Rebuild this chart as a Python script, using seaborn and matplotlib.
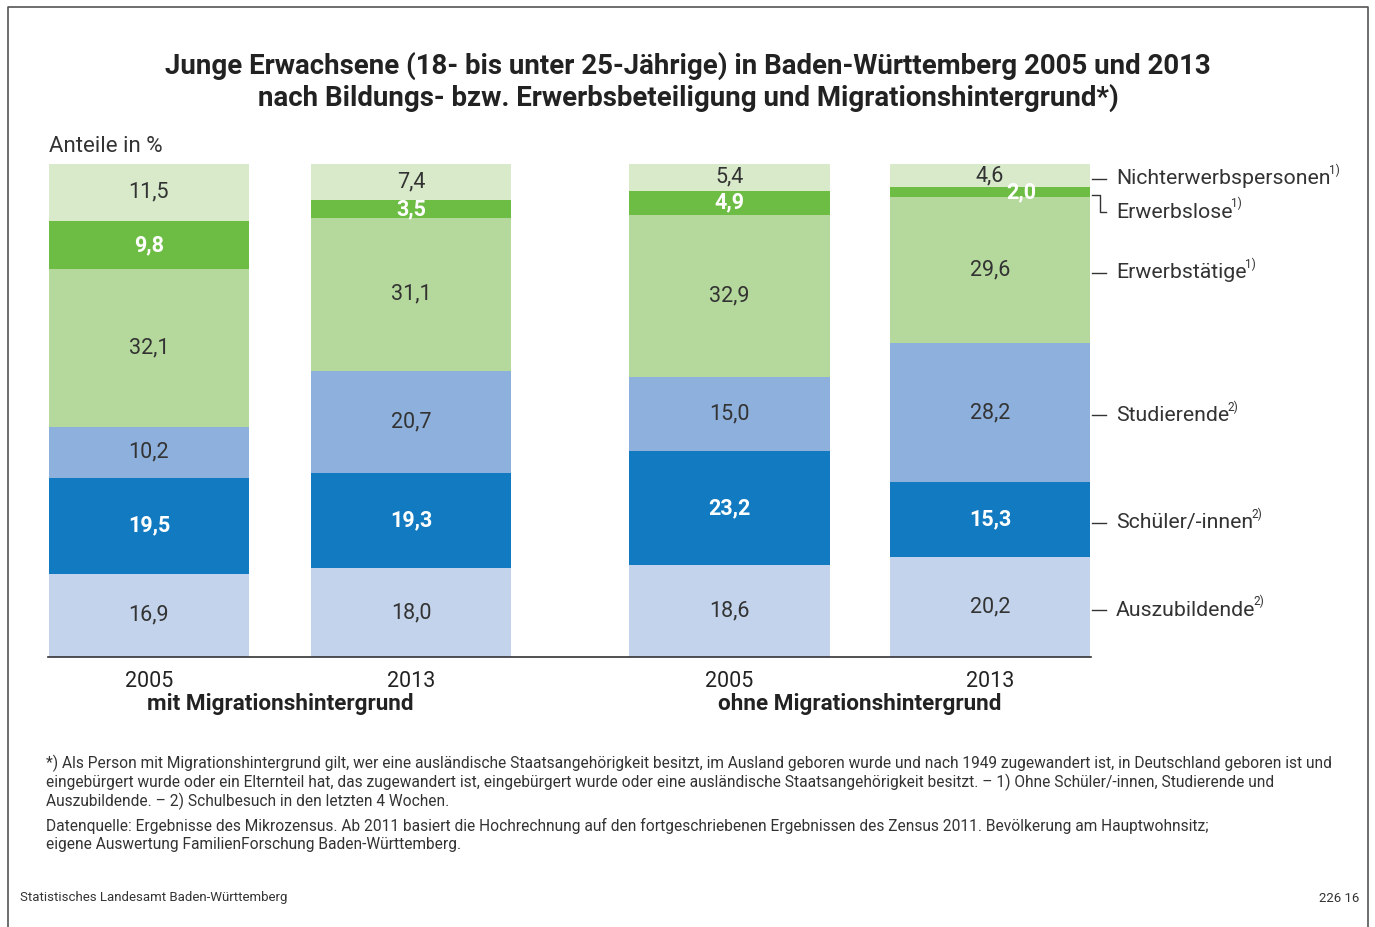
import matplotlib
matplotlib.use("Agg")
import matplotlib.pyplot as plt
import pandas as pd
import seaborn as sns
from matplotlib.lines import Line2D

# Data (Anteile in %), bottom segment first
years = ["2005", "2013", "2005", "2013"]
groups = ["mit Migrationshintergrund", "ohne Migrationshintergrund"]
categories = ["Auszubildende", "Schüler/-innen", "Studierende",
              "Erwerbstätige", "Erwerbslose", "Nichterwerbspersonen"]
notes = ["2)", "2)", "2)", "1)", "1)", "1)"]
auszubildende = [16.9, 18.0, 18.6, 20.2]
schueler = [19.5, 19.3, 23.2, 15.3]
studierende = [10.2, 20.7, 15.0, 28.2]
erwerbstaetige = [32.1, 31.1, 32.9, 29.6]
erwerbslose = [9.8, 3.5, 4.9, 2.0]
nichterwerb = [11.5, 7.4, 5.4, 4.6]

colors = ["#c2d3eb", "#127ac1", "#8eb0dc", "#b5d99c", "#6dbd45", "#d8eaca"]
white_label = [False, True, False, False, True, False]

# bar positions: two groups, wider gap between them
xpos = [0.0, 1.0, 2.215, 3.21]
bar_w = 0.77

series = [auszubildende, schueler, studierende, erwerbstaetige, erwerbslose, nichterwerb]
df = pd.DataFrame({"x": xpos})
cum = [0.0] * len(xpos)
bottoms = []
for name, vals in zip(categories, series):
    bottoms.append(list(cum))
    cum = [c + v for c, v in zip(cum, vals)]
    df[name] = cum

plt.rcParams["font.family"] = ["Roboto", "DejaVu Sans"]
fig = plt.figure(figsize=(13.75, 9.27), dpi=100)
ax = fig.add_axes([48 / 1375, 1 - 657 / 927, 1043 / 1375, 493 / 927])

# stacked bars: draw cumulative totals from top layer down
for name, col in reversed(list(zip(categories, colors))):
    sns.barplot(data=df, x="x", y=name, native_scale=True, width=bar_w,
                color=col, saturation=1, linewidth=0, ax=ax)

for i, (name, vals) in enumerate(zip(categories, series)):
    for j, v in enumerate(vals):
        y = bottoms[i][j] + v / 2
        txt = f"{v:.1f}".replace(".", ",")
        # thin segment in the last bar: label shifted right
        dx = 31 if (name == "Erwerbslose" and v < 3) else 0
        if white_label[i]:
            ax.annotate(txt, xy=(xpos[j], y), xytext=(dx, 0), textcoords="offset pixels",
                        ha="center", va="center", fontsize=15.5,
                        color="white", fontweight="bold")
        else:
            ax.annotate(txt, xy=(xpos[j], y), xytext=(dx, 0), textcoords="offset pixels",
                        ha="center", va="center", fontsize=15.5, color="#333333")

ax.set_xlim(xpos[0] - bar_w / 2, xpos[-1] + bar_w / 2)
ax.set_ylim(0, 100)
ax.set_xticks(xpos)
ax.set_xticklabels(years, fontsize=15.5, color="#222222")
ax.tick_params(axis="x", length=0, pad=10)
ax.set_yticks([])
ax.set_xlabel("")
ax.set_ylabel("")
for s in ["top", "right", "left"]:
    ax.spines[s].set_visible(False)
ax.spines["bottom"].set_color("#333333")
ax.spines["bottom"].set_linewidth(1.2)

# group labels
for k, g in enumerate(groups):
    xc = (xpos[2 * k] + xpos[2 * k + 1]) / 2
    ax.annotate(g, xy=(xc, 0), xycoords=("data", "axes fraction"),
                xytext=(0, -47), textcoords="offset pixels",
                ha="center", va="center", fontsize=16.2, fontweight="bold",
                color="#222222")

# legend labels at right, at centers of last bar's segments
xr = xpos[-1] + bar_w / 2
last = [s[-1] for s in series]
for i, name in enumerate(categories):
    yc = bottoms[i][-1] + last[i] / 2
    x0, yp = ax.transData.transform((xr, yc))
    yp -= 3
    if name == "Erwerbslose":
        # L-shaped connector pointing down
        y_lab = yp - 17
        fig.add_artist(Line2D([x0 + 1, x0 + 9, x0 + 9, x0 + 15],
                              [yp, yp, y_lab, y_lab],
                              transform=None, color="#333333", lw=1))
    else:
        y_lab = yp
        fig.add_artist(Line2D([x0 + 1, x0 + 15], [yp, yp], transform=None,
                              color="#333333", lw=1))
    t = fig.text((x0 + 25) / 1375, y_lab / 927, name, ha="left", va="center",
                 fontsize=15.3, color="#333333")
    ax.annotate(notes[i], xy=(1, 0.6), xycoords=t, xytext=(-2, 0),
                textcoords="offset pixels", ha="left", va="bottom",
                fontsize=8.5, color="#333333")

fig.text(49 / 1375, 1 - 146 / 927, "Anteile in %", ha="left", va="center",
         fontsize=16, color="#333333")

title_lines = ["Junge Erwachsene (18- bis unter 25-Jährige) in Baden-Württemberg 2005 und 2013",
               "nach Bildungs- bzw. Erwerbsbeteiligung und Migrationshintergrund*)"]
for k, line in enumerate(title_lines):
    fig.text(688 / 1375, 1 - (66 + 32 * k) / 927, line, ha="center", va="center",
             fontsize=19.9, fontweight="bold", color="#222222")

foot_lines = [
    "*) Als Person mit Migrationshintergrund gilt, wer eine ausländische Staatsangehörigkeit besitzt, "
    "im Ausland geboren wurde und nach 1949 zugewandert ist, in Deutschland geboren ist und",
    "eingebürgert wurde oder ein Elternteil hat, das zugewandert ist, eingebürgert wurde oder eine "
    "ausländische Staatsangehörigkeit besitzt. – 1) Ohne Schüler/-innen, Studierende und",
    "Auszubildende. – 2) Schulbesuch in den letzten 4 Wochen.",
    "Datenquelle: Ergebnisse des Mikrozensus. Ab 2011 basiert die Hochrechnung auf den fortgeschriebenen "
    "Ergebnissen des Zensus 2011. Bevölkerung am Hauptwohnsitz;",
    "eigene Auswertung FamilienForschung Baden-Württemberg.",
]
foot_y = [763, 782, 801, 826, 845]
for line, y in zip(foot_lines, foot_y):
    fig.text(46 / 1375, 1 - y / 927, line, ha="left", va="center", fontsize=11.2,
             color="#333333")

fig.text(20 / 1375, 1 - 898 / 927, "Statistisches Landesamt Baden-Württemberg",
         ha="left", va="center", fontsize=9.5, color="#333333")
fig.text(1359 / 1375, 1 - 898 / 927, "226 16", ha="right", va="center",
         fontsize=9.5, color="#333333")

# frame
fig.add_artist(Line2D([8 / 1375, 8 / 1375, 1368 / 1375, 1368 / 1375],
                      [0, 1 - 7 / 927, 1 - 7 / 927, 0], color="#555555", lw=1.2))

fig.savefig("out.png", dpi=100)
